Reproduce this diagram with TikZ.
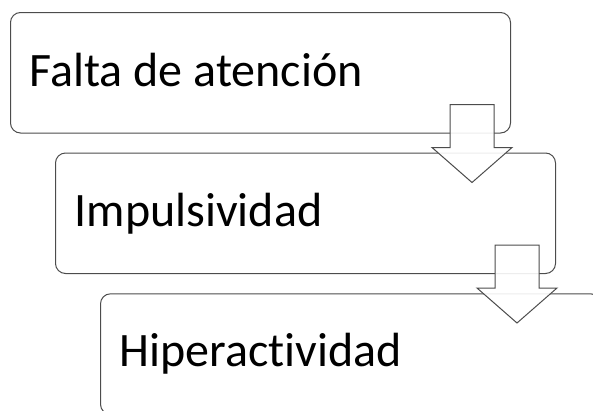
\documentclass[tikz,border=0pt]{standalone}
\usepackage{fontspec}
\setmainfont{Carlito}[Ligatures={NoCommon,NoRequired,NoContextual}]
\usetikzlibrary{calc}
\begin{document}
\begin{tikzpicture}[x=1pt,y=-1pt,
  box/.style={draw=black!70, line width=1pt, rounded corners=10pt, minimum width=500pt, minimum height=120.5pt, anchor=north west, inner sep=0pt},
  lbl/.style={anchor=base west, inner sep=0pt, font=\fontsize{48}{58}\selectfont},
  barrow/.style={draw=black!70, line width=1pt, fill=white, fill opacity=0.9, line join=miter}]
\useasboundingbox (0,0) rectangle (593,410);
\clip (0,0) rectangle (593,410);
\node[box] (b1) at (10,12) {};
\node[box] (b2) at (55,152.5) {};
\node[box] (b3) at (100,293.3) {};
\node[lbl] (t1) at ($(b1.north west)+(19.5,74.7)$) {Falta de atención};
\node[lbl] (t2) at ($(b2.north west)+(19.5,74.2)$) {Impulsividad};
\node[lbl] (t3) at ($(b3.north west)+(19.5,73.4)$) {Hiperactividad};
\coordinate (a1) at ($(b1.south east)+(-39,0)$);
\coordinate (a2) at ($(b2.south east)+(-39,0)$);
\foreach \a in {a1,a2}{
  \begin{scope}[shift={(\a)}]
    \draw[barrow] (-22,-29) -- (22,-29) -- (22,14) -- (40,14) -- (0,49) -- (-40,14) -- (-22,14) -- cycle;
  \end{scope}
}
\end{tikzpicture}
\end{document}
